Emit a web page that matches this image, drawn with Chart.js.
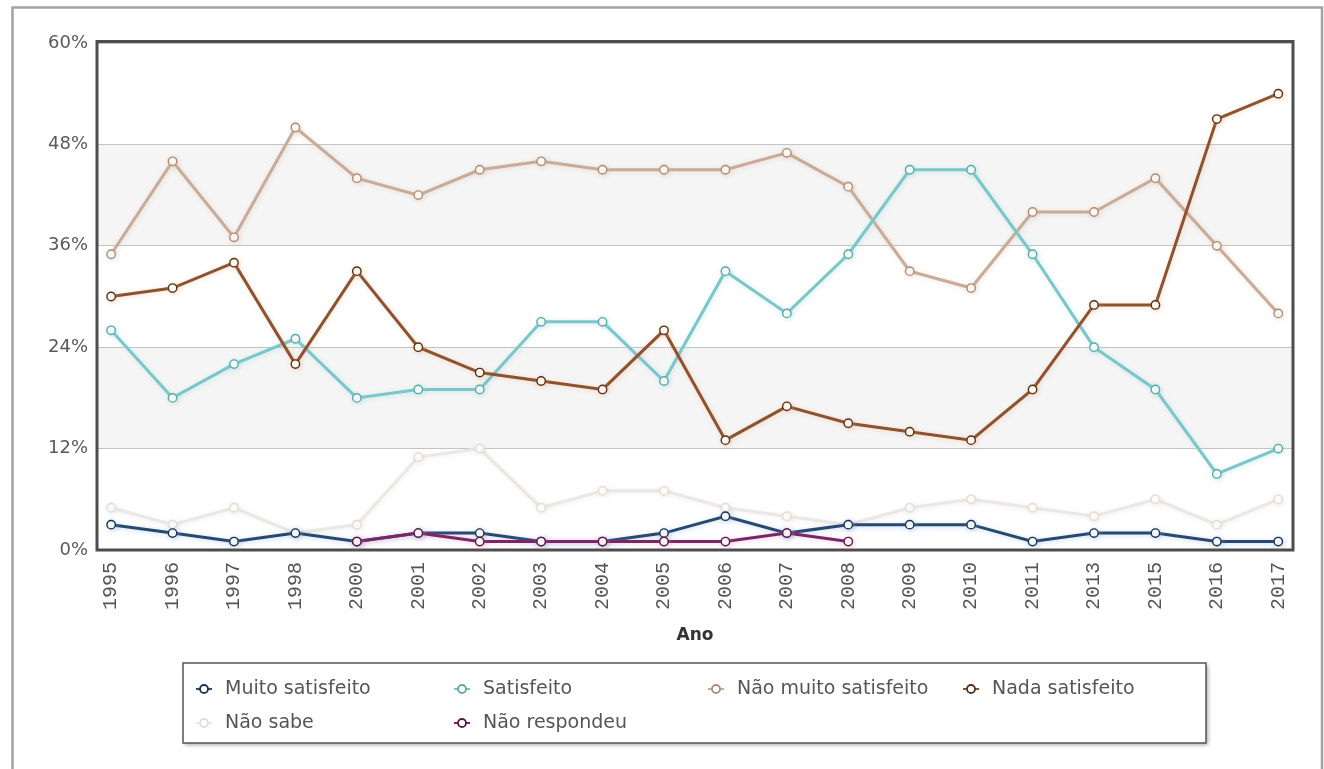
<!DOCTYPE html>
<html lang="pt">
<head>
<meta charset="utf-8">
<title>Satisfação por ano</title>
<script src="https://cdn.jsdelivr.net/npm/chart.js@4.4.1/dist/chart.umd.min.js"></script>
<style>
  html, body { margin: 0; padding: 0; background: #ffffff; }
  #wrap { position: relative; width: 1324px; height: 769px; }
</style>
</head>
<body>
<div id="wrap"><canvas id="c" width="1324" height="769"></canvas></div>
<script>
// Survey years (categories on the horizontal axis)
const years = ['1995','1996','1997','1998','2000','2001','2002','2003','2004','2005',
               '2006','2007','2008','2009','2010','2011','2013','2015','2016','2017'];

// Percentage of answers per year, one array per answer option
const muitoSatisfeito    = [3, 2, 1, 2, 1, 2, 2, 1, 1, 2, 4, 2, 3, 3, 3, 1, 2, 2, 1, 1];
const satisfeito         = [26, 18, 22, 25, 18, 19, 19, 27, 27, 20, 33, 28, 35, 45, 45, 35, 24, 19, 9, 12];
const naoMuitoSatisfeito = [35, 46, 37, 50, 44, 42, 45, 46, 45, 45, 45, 47, 43, 33, 31, 40, 40, 44, 36, 28];
const nadaSatisfeito     = [30, 31, 34, 22, 33, 24, 21, 20, 19, 26, 13, 17, 15, 14, 13, 19, 29, 29, 51, 54];
const naoSabe            = [5, 3, 5, 2, 3, 11, 12, 5, 7, 7, 5, 4, 3, 5, 6, 5, 4, 6, 3, 6];
const naoRespondeu       = [null, null, null, null, 1, 2, 1, 1, 1, 1, 1, 2, 1, null, null, null, null, null, null, null];

// Series names shown in the legend
const seriesNames = ['Muito satisfeito', 'Satisfeito', 'Não muito satisfeito', 'Nada satisfeito', 'Não sabe', 'Não respondeu'];

// Value-axis ticks
const yTicks = [0, 12, 24, 36, 48, 60];

const toPoints = arr => arr.map((v, i) => ({ x: i, y: v }));

const styles = [
  { line: '#284872', edge: '#1a3150', glow: 'rgba(130,180,225,0.45)', order: 2 },
  { line: '#7cc6c9', edge: '#5aa9ae', glow: 'rgba(150,215,220,0.45)', order: 4 },
  { line: '#c8ab98', edge: '#ad8d78', glow: 'rgba(220,190,170,0.45)', order: 5 },
  { line: '#8e5230', edge: '#55301b', glow: 'rgba(235,165,110,0.35)', order: 3 },
  { line: '#ebe7e3', edge: '#e2ddd8', glow: 'rgba(225,220,215,0.45)', order: 6 },
  { line: '#7c2565', edge: '#561947', glow: 'rgba(215,140,195,0.4)',  order: 1 }
];
const seriesValues = [muitoSatisfeito, satisfeito, naoMuitoSatisfeito, nadaSatisfeito, naoSabe, naoRespondeu];

const datasets = seriesValues.map((vals, k) => ({
  label: seriesNames[k],
  data: toPoints(vals),
  borderColor: styles[k].line,
  backgroundColor: styles[k].line,
  borderWidth: 3,
  pointRadius: 4.2,
  pointHoverRadius: 4.2,
  pointBackgroundColor: '#fffef9',
  pointBorderColor: styles[k].edge,
  pointBorderWidth: 1.4,
  tension: 0,
  spanGaps: false,
  order: styles[k].order,
  glow: styles[k].glow
}));

// Frame, alternating bands, plot border, line glow, legend box and axis title
const decor = {
  id: 'decor',
  beforeDraw(chart) {
    const ctx = chart.ctx;
    const a = chart.chartArea;
    const y = chart.scales.y;
    ctx.save();
    ctx.fillStyle = '#ffffff';
    ctx.fillRect(0, 0, chart.width, chart.height);
    // outer frame
    ctx.strokeStyle = '#a3a3a3';
    ctx.lineWidth = 2.5;
    ctx.beginPath();
    ctx.moveTo(12.5, 775);
    ctx.lineTo(12.5, 7.5);
    ctx.lineTo(1322, 7.5);
    ctx.lineTo(1322, 775);
    ctx.stroke();
    // alternating bands between ticks
    ctx.fillStyle = '#f5f5f5';
    for (let i = 1; i < yTicks.length - 1; i += 2) {
      const top = y.getPixelForValue(yTicks[i + 1]);
      const bot = y.getPixelForValue(yTicks[i]);
      ctx.fillRect(a.left, top, a.right - a.left, bot - top);
    }
    ctx.restore();
  },
  beforeDatasetsDraw(chart) {
    const ctx = chart.ctx;
    const a = chart.chartArea;
    ctx.save();
    ctx.strokeStyle = '#4d4d4d';
    ctx.lineWidth = 3;
    ctx.strokeRect(a.left, a.top - 1.5, a.right - a.left, a.bottom - a.top + 1.5);
    ctx.restore();
  },
  beforeDatasetDraw(chart, args) {
    const ctx = chart.ctx;
    ctx.save();
    ctx.shadowColor = chart.data.datasets[args.index].glow;
    ctx.shadowBlur = 5;
    ctx.shadowOffsetX = 1;
    ctx.shadowOffsetY = 1;
  },
  afterDatasetDraw(chart) {
    chart.ctx.restore();
  },
  afterDraw(chart) {
    const ctx = chart.ctx;
    const a = chart.chartArea;
    ctx.save();
    // axis title
    ctx.fillStyle = '#333333';
    ctx.font = 'bold 17px "DejaVu Sans"';
    ctx.textAlign = 'center';
    ctx.textBaseline = 'middle';
    ctx.fillText('Ano', (a.left + a.right) / 2, 636);

    // legend box with soft shadow
    const bx = 183, by = 663, bw = 1023, bh = 80;
    ctx.shadowColor = 'rgba(0,0,0,0.35)';
    ctx.shadowBlur = 4;
    ctx.shadowOffsetX = 2;
    ctx.shadowOffsetY = 2;
    ctx.fillStyle = '#ffffff';
    ctx.fillRect(bx, by, bw, bh);
    ctx.shadowColor = 'transparent';
    ctx.strokeStyle = '#555555';
    ctx.lineWidth = 1.5;
    ctx.strokeRect(bx, by, bw, bh);

    const colX = [204, 462, 716, 971];
    const rowY = [689, 723];
    ctx.font = '19px "DejaVu Sans"';
    ctx.textAlign = 'left';
    ctx.textBaseline = 'middle';
    chart.data.datasets.forEach((ds, k) => {
      const cx = colX[k % 4];
      const cy = rowY[Math.floor(k / 4)];
      ctx.strokeStyle = ds.borderColor;
      ctx.lineWidth = 2;
      ctx.beginPath();
      ctx.moveTo(cx - 8, cy);
      ctx.lineTo(cx + 8, cy);
      ctx.stroke();
      ctx.beginPath();
      ctx.arc(cx, cy, 4, 0, Math.PI * 2);
      ctx.fillStyle = '#ffffff';
      ctx.fill();
      ctx.lineWidth = 1.8;
      ctx.strokeStyle = ds.pointBorderColor;
      ctx.stroke();
      ctx.fillStyle = '#555555';
      ctx.fillText(ds.label, cx + 21, cy);
    });
    ctx.restore();
  }
};

new Chart(document.getElementById('c'), {
  type: 'line',
  data: { datasets },
  options: {
    responsive: false,
    animation: false,
    events: [],
    layout: { padding: { left: 0, top: 43, right: 31, bottom: 0 } },
    plugins: { legend: { display: false }, tooltip: { enabled: false } },
    scales: {
      x: {
        type: 'linear',
        min: -0.23,
        max: 19.24,
        afterBuildTicks: s => { s.ticks = years.map((_, i) => ({ value: i })); },
        afterFit: s => { s.height = 219; },
        grid: { display: false, drawTicks: false },
        border: { display: false },
        ticks: {
          autoSkip: false,
          minRotation: 90,
          maxRotation: 90,
          padding: 12,
          color: '#555555',
          font: { family: '"Liberation Mono"', size: 20 },
          callback: v => years[v] ?? ''
        }
      },
      y: {
        min: 0,
        max: 60,
        afterBuildTicks: s => { s.ticks = yTicks.map(v => ({ value: v })); },
        afterFit: s => { s.width = 97; },
        grid: { color: '#c4c4c4', lineWidth: 1, drawTicks: false },
        border: { display: false },
        ticks: {
          padding: 9,
          color: '#5a5a5a',
          font: { family: '"DejaVu Sans"', size: 18 },
          callback: v => v + '%'
        }
      }
    }
  },
  plugins: [decor]
});
</script>
</body>
</html>
